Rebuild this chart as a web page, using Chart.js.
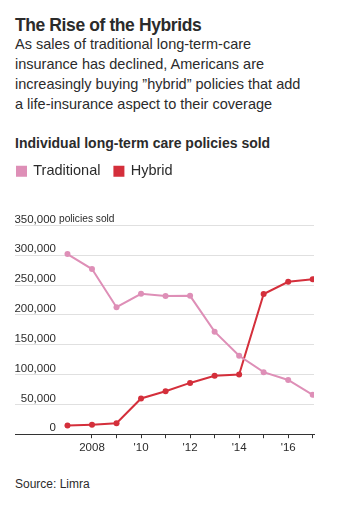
<!DOCTYPE html>
<html><head><meta charset="utf-8">
<script src="https://cdn.jsdelivr.net/npm/chart.js@4.4.1/dist/chart.umd.min.js"></script>
<style>
html,body{margin:0;padding:0;background:#fff;}
body{width:338px;height:508px;position:relative;font-family:"Liberation Sans",Arial,sans-serif;color:#2b2b2b;}
#title{position:absolute;left:15px;top:14.5px;font-size:17.5px;font-weight:700;letter-spacing:-0.4px;line-height:normal;white-space:nowrap;}
#sub{position:absolute;left:15px;top:34.3px;font-size:14.5px;line-height:20px;white-space:nowrap;}
#head{position:absolute;left:15px;top:135.4px;font-size:14px;font-weight:700;white-space:nowrap;}
#src{position:absolute;left:15px;top:477.3px;font-size:12px;white-space:nowrap;}
#wrap{position:absolute;left:0;top:150px;width:338px;height:308px;}
</style></head><body>
<div id="title">The Rise of the Hybrids</div>
<div id="sub">As sales of traditional long-term-care<br>insurance has declined, Americans are<br>increasingly buying ”hybrid” policies that add<br>a life-insurance aspect to their coverage</div>
<div id="head">Individual long-term care policies sold</div>
<div id="wrap"><canvas id="c"></canvas></div>
<div id="src">Source: Limra</div>
<script>
const years = [2007,2008,2009,2010,2011,2012,2013,2014,2015,2016,2017];
const traditional = [302000,277000,213000,235500,231700,232000,172000,131500,104000,91000,66000];
const hybrid = [14500,16000,18400,60000,72000,86000,98000,100000,235000,255600,260000];
const yTicks = [0,50000,100000,150000,200000,250000,300000,350000];
const xTicks = [2008,2009,2010,2011,2012,2013,2014,2015,2016,2017];
const seriesNames = ['Traditional','Hybrid'];
const colors = ['#de8fb7','#d42f3b'];
const unitLabel = 'policies sold';
const FONT = '"Liberation Sans", Arial, sans-serif';

const unitPlugin = {
  id:'unit',
  beforeInit(chart){
    const lg = chart.legend;
    if (lg) {
      const fit = lg.fit;
      lg.fit = function(){ fit.call(lg); lg.height = 75.5; };
    }
  },
  afterDraw(chart){
    const y = chart.scales.y;
    const ctx = chart.ctx;
    ctx.save();
    ctx.font = '10.2px "Liberation Sans", Arial, sans-serif';
    ctx.fillStyle = '#2b2b2b';
    ctx.textBaseline = 'middle';
    ctx.textAlign = 'left';
    ctx.fillText(unitLabel, chart.chartArea.left + 2, y.getPixelForValue(350000) - 6);
    ctx.restore();
  }
};

new Chart(document.getElementById('c'), {
  type:'line',
  data:{
    datasets: seriesNames.map((n,i)=>({
      label:n,
      data: years.map((yr,j)=>({x:yr, y:(i===0?traditional:hybrid)[j]})),
      borderColor: colors[i], backgroundColor: colors[i],
      pointBackgroundColor: colors[i], pointBorderWidth:0,
      pointRadius:3, borderWidth:2, tension:0
    }))
  },
  options:{
    responsive:true, maintainAspectRatio:false, animation:false,
    layout:{padding:{left:3,right:24,top:0,bottom:0}},
    plugins:{
      legend:{
        align:'start',
        labels:{boxWidth:9, boxHeight:9, padding:14, color:'#2b2b2b',
          font:{family:FONT, size:14.5}},
        onClick:null
      },
      tooltip:{enabled:false}
    },
    scales:{
      x:{
        type:'linear', min:2006.573, max:2017.053,
        afterBuildTicks: s => { s.ticks = xTicks.map(v=>({value:v})); },
        grid:{display:true, drawOnChartArea:false, drawTicks:true, tickLength:4, tickColor:'#333', tickWidth:1},
        border:{display:true, color:'#333', width:1},
        ticks:{
          autoSkip:false, maxRotation:0, padding:3, color:'#2b2b2b',
          font:{family:FONT, size:11.5},
          callback: v => v===2008 ? '2008' : (v%2===0 ? "'" + String(v).slice(2) : '')
        }
      },
      y:{
        min:0, max:350000,
        afterBuildTicks: s => { s.ticks = yTicks.map(v=>({value:v})); },
        afterFit: s => { s.width = 54; },
        grid:{color: c => c.tick && c.tick.value===0 ? 'rgba(0,0,0,0)' : '#e0e0e0',
              tickColor: c => c.tick && c.tick.value===0 ? '#333' : '#e0e0e0',
              tickLength:42, drawTicks:true, lineWidth:1},
        border:{display:false},
        ticks:{
          padding:-41, labelOffset:-6, color:'#2b2b2b',
          font:{family:FONT, size:11.5},
          callback: v => v.toLocaleString('en-US')
        }
      }
    }
  },
  plugins:[unitPlugin]
});
</script>
</body></html>
